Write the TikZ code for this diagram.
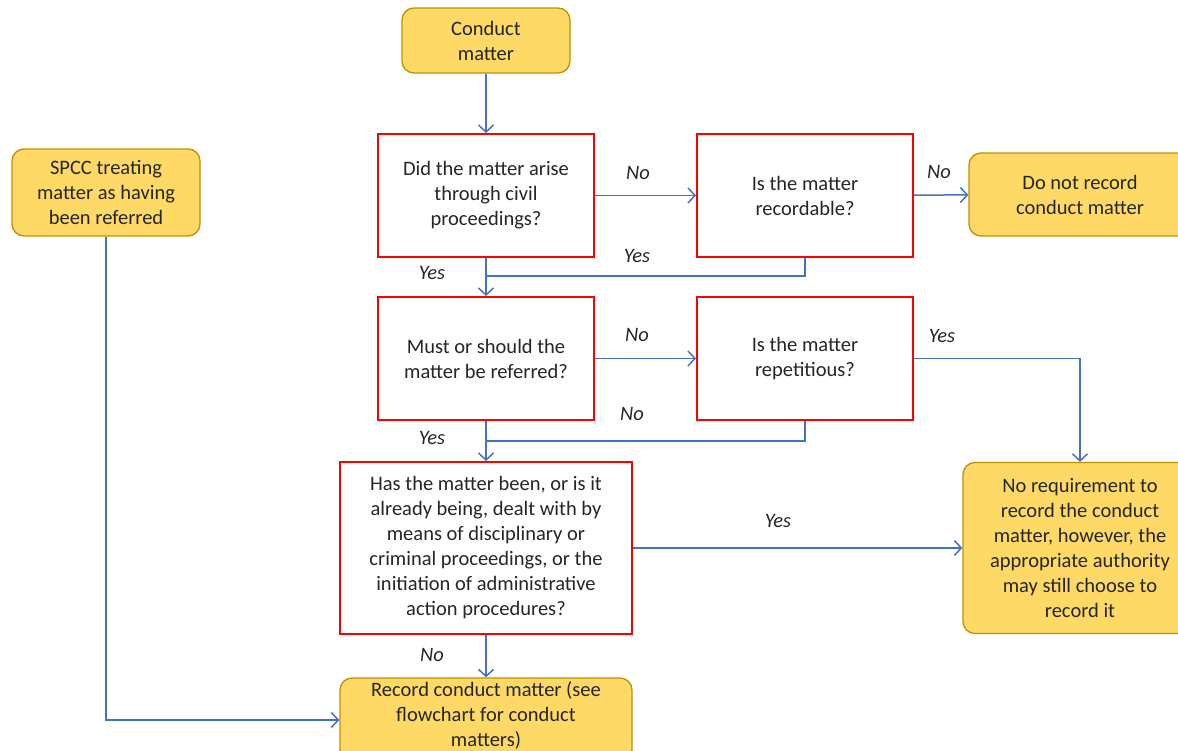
\documentclass[tikz,border=0pt]{standalone}
\usepackage{fontspec}
\setmainfont{Carlito}
\usetikzlibrary{arrows.meta}
\definecolor{boxfill}{HTML}{FFD966}
\definecolor{boxline}{HTML}{BF9000}
\definecolor{flow}{HTML}{4472C4}
\definecolor{qline}{HTML}{FF0000}
\begin{document}
\begin{tikzpicture}[x=1pt,y=-1pt,
  every node/.style={font=\fontsize{20.5}{25}\selectfont, text=black!85, align=center, inner sep=0pt},
  endbox/.style={draw=boxline, fill=boxfill, line width=1.3pt, rounded corners=12pt},
  qbox/.style={draw=qline, line width=2pt, fill=white},
  flowline/.style={draw=flow, line width=1.5pt},
  arr/.style={flowline, -{Straight Barb[length=7pt,width=15pt,line width=1.5pt]}},
  lbl/.style={font=\fontsize{20.5}{25}\selectfont\itshape}]
\useasboundingbox (0,0) rectangle (1178,750);
\clip (0,0) rectangle (1178,750);

% start and end boxes
\node[endbox, minimum width=168pt, minimum height=65pt] (start) at (486,40.5) {Conduct\\matter};
\node[endbox, minimum width=188pt, minimum height=87pt] (spcc) at (106,192.5) {SPCC treating\\matter as having\\been referred};
\node[endbox, minimum width=222pt, minimum height=83pt] (norec) at (1080,194.5) {Do not record\\conduct matter};
\node[endbox, minimum width=234pt, minimum height=171pt] (noreq) at (1080,548) {No requirement to\\record the conduct\\matter, however, the\\appropriate authority\\may still choose to\\record it};
\node[endbox, minimum width=292pt, minimum height=84pt] (record) at (486,720) {};
\node at (486,715) {Record conduct matter (see\\flowchart for conduct\\matters)};

% decision boxes
\node[qbox, minimum width=216pt, minimum height=123pt] (civil) at (486,195.5) {Did the matter arise\\through civil\\proceedings?};
\node[qbox, minimum width=216pt, minimum height=123pt] (recable) at (805,195.5) {Is the matter\\recordable?};
\node[qbox, minimum width=216pt, minimum height=123pt] (refer) at (486,358.5) {Must or should the\\matter be referred?};
\node[qbox, minimum width=216pt, minimum height=123pt] (repet) at (805,358.5) {Is the matter\\repetitious?};
\node[qbox, minimum width=292pt, minimum height=172pt] (dealt) at (486,548) {Has the matter been, or is it\\already being, dealt with by\\means of disciplinary or\\criminal proceedings, or the\\initiation of administrative\\action procedures?};

% junctions where the side branches rejoin the main line
\coordinate (join1) at (486,276);
\coordinate (join2) at (486,441);

% connectors
\draw[arr] (start) -- (civil);
\draw[arr] (civil) -- (recable);
\draw[arr] (recable) -- (norec);
\draw[flowline] (recable.south) |- (join1);
\draw[arr] (civil) -- (refer);
\draw[arr] (refer) -- (repet);
\draw[arr] (repet.east) -| (noreq.north);
\draw[flowline] (repet.south) |- (join2);
\draw[arr] (refer) -- (dealt);
\draw[arr] (dealt) -- (noreq);
\draw[arr] (dealt) -- (record);
\draw[arr] (spcc.south) |- (record.west);

% branch labels
\node[lbl] at (638,173) {No};
\node[lbl] at (939,172) {No};
\node[lbl] at (637,256) {Yes};
\node[lbl] at (432,273) {Yes};
\node[lbl] at (637,335) {No};
\node[lbl] at (942,336) {Yes};
\node[lbl] at (632,414) {No};
\node[lbl] at (432,438) {Yes};
\node[lbl] at (778,521) {Yes};
\node[lbl] at (432,655) {No};
\end{tikzpicture}
\end{document}
